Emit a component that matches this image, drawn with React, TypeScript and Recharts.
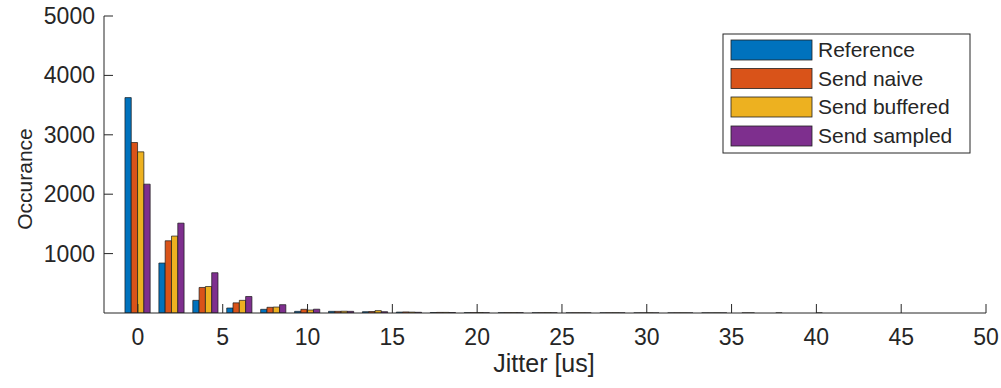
import React from 'react';
import { BarChart, Bar, XAxis, YAxis, Customized } from 'recharts';

const jitterBins = [0, 2, 4, 6, 8, 10, 12, 14, 16, 18, 20, 22, 24, 26, 28, 30, 32, 34, 36, 38, 40];
const reference = [3626, 841, 213, 84, 62, 28, 28, 22, 15, 8, 5, 4, 3, 2, 2, 1, 1, 1, 0, 0, 0];
const sendNaive = [2870, 1216, 430, 171, 96, 62, 28, 25, 18, 10, 6, 5, 4, 3, 3, 2, 2, 1, 1, 1, 0];
const sendBuffered = [2713, 1295, 446, 213, 100, 50, 30, 40, 15, 10, 8, 6, 5, 3, 4, 3, 2, 2, 1, 0, 1];
const sendSampled = [2169, 1513, 678, 278, 140, 64, 28, 22, 12, 8, 4, 5, 3, 2, 2, 1, 1, 1, 0, 0, 0];

const seriesNames = ['Reference', 'Send naive', 'Send buffered', 'Send sampled'];
const seriesKeys = ['reference', 'sendNaive', 'sendBuffered', 'sendSampled'];
const seriesColors = ['#0072BD', '#D95319', '#EDB120', '#7E2F8E'];

const xTicks = [0, 5, 10, 15, 20, 25, 30, 35, 40, 45, 50];
const yTicks = [1000, 2000, 3000, 4000, 5000];

const data = jitterBins.map((b, i) => ({
  bin: b,
  reference: reference[i],
  sendNaive: sendNaive[i],
  sendBuffered: sendBuffered[i],
  sendSampled: sendSampled[i],
}));

const FONT = '"Liberation Sans", Arial, Helvetica, sans-serif';
const INK = '#262626';

const XTick = (props: any) => {
  const { x, y, payload } = props;
  return (
    <g>
      <line x1={x} x2={x} y1={y} y2={y - 9} stroke={INK} strokeWidth={1} />
      <text x={x} y={y + 32} textAnchor="middle" fontSize={23} fill={INK} fontFamily={FONT}>
        {payload.value}
      </text>
    </g>
  );
};

const YTick = (props: any) => {
  const { x, y, payload } = props;
  return (
    <g>
      <line x1={x} x2={x + 9} y1={y} y2={y} stroke={INK} strokeWidth={1} />
      <text x={x - 9} y={y + 8} textAnchor="end" fontSize={23} fill={INK} fontFamily={FONT}>
        {payload.value}
      </text>
    </g>
  );
};

const Extras = () => {
  const rows = [40, 68.5, 97, 126];
  return (
    <g>
      <text x={544} y={372} textAnchor="middle" fontSize={25} fill={INK} fontFamily={FONT}>
        Jitter [us]
      </text>
      <text
        x={32}
        y={179}
        textAnchor="middle"
        fontSize={21}
        fill={INK}
        fontFamily={FONT}
        transform="rotate(-90, 32, 179)"
      >
        Occurance
      </text>
      <rect x={723} y={34} width={247} height={119} fill="#fff" stroke={INK} strokeWidth={1} />
      {seriesNames.map((n, i) => (
        <g key={n}>
          <rect x={731} y={rows[i]} width={81} height={20} fill={seriesColors[i]} stroke="#222" strokeWidth={0.8} />
          <text x={818} y={rows[i] + 17} fontSize={21} fill={INK} fontFamily={FONT}>
            {n}
          </text>
        </g>
      ))}
    </g>
  );
};

export default function App() {
  return (
    <div style={{ width: 1001, height: 388 }}>
      <style>{'html, body { margin: 0; padding: 0; overflow: hidden; }'}</style>
      <BarChart
        width={1001}
        height={388}
        data={data}
        margin={{ top: 16, right: 15, bottom: 15, left: 44 }}
        barGap={0}
        barSize={6.3}
        style={{ overflow: 'visible' }}
      >
        <XAxis
          dataKey="bin"
          type="number"
          domain={[-2, 50]}
          ticks={xTicks}
          interval={0}
          height={60}
          tickSize={0}
          tickMargin={0}
          tick={<XTick />}
          axisLine={{ stroke: INK, strokeWidth: 1 }}
          tickLine={false}
          allowDataOverflow
        />
        <YAxis
          type="number"
          domain={[0, 5000]}
          ticks={yTicks}
          interval={0}
          width={60}
          tickSize={0}
          tickMargin={0}
          tick={<YTick />}
          axisLine={{ stroke: INK, strokeWidth: 1 }}
          tickLine={false}
          allowDataOverflow
        />
        {seriesKeys.map((k, i) => (
          <Bar
            key={k}
            dataKey={k}
            name={seriesNames[i]}
            fill={seriesColors[i]}
            stroke="#1a1a1a"
            strokeWidth={0.7}
            isAnimationActive={false}
          />
        ))}
        <Customized component={Extras} />
      </BarChart>
    </div>
  );
}
